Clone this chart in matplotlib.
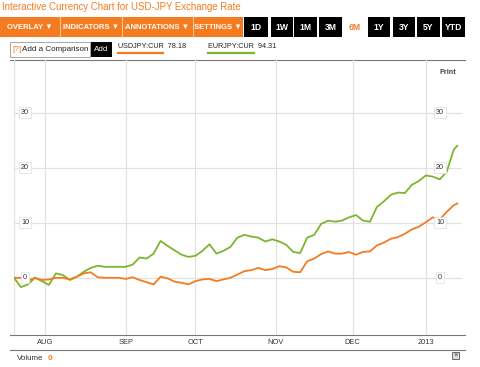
import matplotlib
matplotlib.use("Agg")
import matplotlib.pyplot as plt
from matplotlib.patches import Rectangle
import pandas as pd

plt.rcParams['font.family'] = ['Liberation Sans', 'DejaVu Sans']

# trading days shown in the 6M window
dates = pd.bdate_range('2012-07-19', '2013-01-14')
month_starts = ['2012-08-01', '2012-09-03', '2012-10-01', '2012-11-01', '2012-12-03', '2013-01-01']
month_labels = ['AUG', 'SEP', 'OCT', 'NOV', 'DEC', '2013']

# sampled every second trading day, % change since start
day = list(range(0, 127, 2)) + [127]
usdjpy = [0, 0, -0.5, 0, -0.4, -0.3, 0, 0, -0.3, 0.2,
          0.8, 1.0, 0.1, 0, 0, 0, -0.2, 0.1, -0.4, -0.8,
          -1.2, 0.2, -0.1, -0.7, -0.9, -1.2, -0.6, -0.3, -0.2, -0.6,
          -0.3, 0, 0.6, 1.2, 1.4, 1.8, 1.4, 1.6, 2.1, 1.9,
          1.1, 1.0, 3.0, 3.5, 4.3, 4.8, 4.4, 4.4, 4.7, 4.2,
          4.7, 4.8, 5.9, 6.4, 7.1, 7.4, 8.0, 8.8, 9.3, 10.1,
          11.0, 10.6, 12.0, 13.2, 13.5]
eurjpy = [0, -1.7, -1.2, 0, -0.6, -1.3, 0.8, 0.5, -0.4, 0.2,
          1.1, 1.8, 2.2, 2.0, 2.0, 2.0, 2.0, 2.4, 3.7, 3.5,
          4.4, 6.7, 5.8, 5.0, 4.2, 3.8, 4.0, 4.9, 6.1, 4.4,
          4.9, 5.6, 7.3, 7.8, 7.5, 7.3, 6.6, 7.0, 6.6, 6.0,
          4.7, 4.5, 7.3, 7.8, 9.8, 10.4, 10.2, 10.4, 11.0, 11.4,
          10.4, 10.2, 12.9, 13.9, 15.1, 15.5, 15.4, 16.9, 17.6, 18.6,
          18.4, 17.9, 19.3, 23.3, 24.0]
yticks = [0, 10, 20, 30]

ORANGE = '#f47b20'
GREEN = '#7db52f'
GRID = '#e2e2e2'
W, H = 480, 367

fig = plt.figure(figsize=(W / 100, H / 100), dpi=100)

# overlay axes in pixel coordinates for the page furniture
ui = fig.add_axes([0, 0, 1, 1])
ui.set_xlim(0, W)
ui.set_ylim(H, 0)
ui.axis('off')

ui.text(2, 7, 'Interactive Currency Chart for USD-JPY Exchange Rate', color=ORANGE,
        fontsize=6.9, va='center', ha='left')

# orange menu bar
ui.add_patch(Rectangle((0, 17), 243, 20, color=ORANGE, lw=0))
for sx in [60, 122, 193]:
    ui.plot([sx, sx], [17, 37], color='#fbc79c', lw=0.8)
for txt, cx in [('OVERLAY ▼', 30), ('INDICATORS ▼', 91), ('ANNOTATIONS ▼', 157), ('SETTINGS ▼', 218)]:
    ui.text(cx, 27.5, txt, color='white', fontsize=5.5, fontweight='bold', ha='center', va='center',
            family=['Liberation Sans', 'DejaVu Sans'])

# period buttons
for txt, x0, x1 in [('1D', 244, 268), ('1W', 271, 293), ('1M', 294, 317), ('3M', 319, 342),
                    ('1Y', 368, 390), ('3Y', 393, 415), ('5Y', 417, 440), ('YTD', 442, 465)]:
    ui.add_patch(Rectangle((x0, 17), x1 - x0, 20, color='black', lw=0))
    ui.text((x0 + x1) / 2, 27.5, txt, color='white', fontsize=6.2, fontweight='bold',
            ha='center', va='center')
ui.text(355, 27.5, '6M', color=ORANGE, fontsize=6.2, fontweight='bold', ha='center', va='center')

# comparison row
ui.add_patch(Rectangle((10, 42), 80, 15, facecolor='white', edgecolor='#999999', lw=0.6))
ui.text(12, 49.5, '[?]', color=ORANGE, fontsize=5.8, va='center')
ui.text(22, 49.5, 'Add a Comparison', color='#222222', fontsize=5.8, va='center')
ui.add_patch(Rectangle((91, 42), 21, 15, color='black', lw=0))
ui.text(101.5, 49.5, 'Add', color='white', fontsize=5.8, ha='center', va='center')
ui.text(118, 47, 'USDJPY:CUR  78.18', color='#222222', fontsize=5.2, va='center')
ui.plot([118, 163], [52.5, 52.5], color=ORANGE, lw=1.6)
ui.text(208, 47, 'EURJPY:CUR  94.31', color='#222222', fontsize=5.2, va='center')
ui.plot([208, 254], [52.5, 52.5], color=GREEN, lw=1.6)
ui.plot([10, 465], [59.5, 59.5], color='#777777', lw=0.8)

ui.text(440, 73, 'Print', color='#444444', fontsize=5.2, fontweight='bold', va='center')

# bottom strip
ui.plot([10, 465], [335, 335], color='#777777', lw=0.8)
ui.plot([10, 465], [350, 350], color='#777777', lw=0.8)
ui.text(17, 358, 'Volume', color='#333333', fontsize=5.8, va='center')
ui.text(48, 358, '0', color=ORANGE, fontsize=5.8, va='center', fontweight='bold')
ui.add_patch(Rectangle((452, 352), 7, 7, facecolor='#dddddd', edgecolor='#555555', lw=0.6))
ui.text(455.5, 355.5, '×', color='#333333', fontsize=5.5, ha='center', va='center')

# data axes: x in trading-day index, pixel 14 -> day 0, 3.49 px per day
px_per_day = 3.49
x_left, x_right, y_top, y_bot = 14, 462, 60, 335
ax = fig.add_axes([x_left / W, 1 - y_bot / H, (x_right - x_left) / W, (y_bot - y_top) / H])
ax.set_xlim(0, (x_right - x_left) / px_per_day)
ax.set_ylim(-10.4, 39.6)
for s in ax.spines.values():
    s.set_visible(False)
ax.set_xticks([])
ax.set_yticks([])
ax.patch.set_alpha(0)

tick_idx = [dates.get_indexer([pd.Timestamp(m)])[0] for m in month_starts]
ax.axvline(0, color=GRID, lw=0.9, zorder=0)
for t in tick_idx:
    ax.axvline(t, color=GRID, lw=0.9, zorder=0)
for v in yticks:
    ax.axhline(v, color=GRID, lw=0.9, zorder=0)

ax.plot(day, eurjpy, color=GREEN, lw=1.3, zorder=3)
ax.plot(day, usdjpy, color=ORANGE, lw=1.3, zorder=3)

box = dict(boxstyle='square,pad=0.25', facecolor='white', edgecolor='#dddddd', lw=0.5)
x_right_label = (440 - x_left) / px_per_day
for v in yticks:
    ax.text(3.2, v, str(v), fontsize=5.2, color='#333333', ha='center', va='center', bbox=box, zorder=4)
    ax.text(x_right_label, v, str(v), fontsize=5.2, color='#333333', ha='center', va='center',
            bbox=box, zorder=4)

for t, lab in zip(tick_idx, month_labels):
    ui.text(x_left + t * px_per_day, 342, lab, fontsize=5.4, color='#333333', ha='center', va='center')

fig.savefig('out.png', dpi=100)
